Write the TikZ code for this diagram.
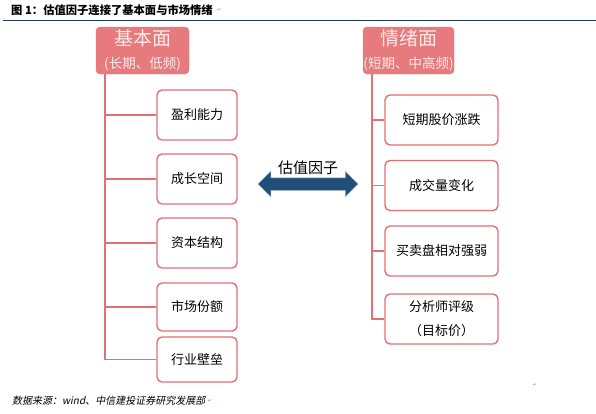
\documentclass[tikz,border=0pt]{standalone}
\usepackage{fontspec}
\setmainfont{Noto Sans CJK SC}[ItalicFont={Noto Sans CJK SC}, ItalicFeatures={FakeSlant=0.2}]
\newfontfamily\symfont{DejaVu Sans}
\usetikzlibrary{positioning,shapes.arrows}

\definecolor{boxred}{RGB}{230,122,124}
\definecolor{linered}{RGB}{226,112,117}
\definecolor{toptext}{RGB}{253,234,234}
\definecolor{arrowblue}{RGB}{31,78,121}
\definecolor{ruleblue}{RGB}{31,56,100}
\definecolor{markblue}{RGB}{120,150,200}

\tikzset{
    topbox/.style={fill=boxred, draw=boxred, rounded corners=4pt, text=toptext,
        align=center, inner sep=0pt, minimum height=47pt, font=\fontsize{13.5}{22.5}\selectfont},
    itembox/.style={draw=linered, line width=1.4pt, rounded corners=5pt, fill=white,
        align=center, inner sep=0pt, font=\fontsize{13}{24}\selectfont},
    branch/.style={draw=linered, line width=1.3pt},
    parmark/.style={text=markblue, font=\symfont\fontsize{5}{5}\selectfont, inner sep=0pt}
}

\begin{document}
\begin{tikzpicture}[x=1pt, y=-1pt]
    \useasboundingbox[fill=white] (0,0) rectangle (596,413);

    % title and rule
    \node[anchor=west, font=\bfseries\fontsize{11.3}{12}\selectfont, inner sep=0pt] (title) at (11,10)
        {图 1：估值因子连接了基本面与市场情绪};
    \node[parmark, right=4pt of title] (pm1) {↵};
    \draw[ruleblue, line width=1pt] (3,20) -- (596,20);

    % left side
    \node[topbox, minimum width=93pt] (fund) at (142.5,50.5)
        {{\fontsize{19}{22.5}\selectfont 基本面}\\(长期、低频)};
    \coordinate (ltrunk) at (105,74);

    \foreach \y/\h/\txt [count=\i] in {115/50/盈利能力, 179/50/成长空间, 243/50/资本结构,
            307/48/市场份额, 359.5/45/行业壁垒} {
        \node[itembox, minimum width=80pt, minimum height=\h pt] (fund\i) at (197,\y) {\txt};
        \draw[branch] (ltrunk) |- (fund\i.west);
    }

    % right side
    \node[topbox, minimum width=91pt] (senti) at (408.5,50.5)
        {{\fontsize{19}{22.5}\selectfont 情绪面}\\(短期、中高频)};
    \coordinate (rtrunk) at (372,74);

    \foreach \y/\txt [count=\i] in {120/短期股价涨跌, 185.5/成交量变化, 251/买卖盘相对强弱,
            319/{分析师评级\\（目标价）}} {
        \node[itembox, minimum width=113pt, minimum height=50pt] (senti\i) at (441.5,\y) {\txt};
        \draw[branch] (rtrunk) |- (senti\i.west);
    }

    % valuation factor arrow
    \node[double arrow, fill=arrowblue, draw=arrowblue!45!white, line width=0.5pt,
        minimum height=100pt, inner xsep=0pt, inner ysep=6pt,
        double arrow head extend=6.5pt] (valarrow) at (308,184) {};
    \node[above=3pt of valarrow, font=\fontsize{15}{16}\selectfont, inner sep=0pt] (valtext)
        {估值因子};

    % source
    \node[anchor=west, font=\itshape\fontsize{10}{11}\selectfont, inner sep=0pt] (source) at (12,401)
        {数据来源：wind、中信建投证券研究发展部};
    \node[parmark, right=2pt of source] (pm2) {↵};
    \node[parmark] (pm3) at (535,385) {↵};
\end{tikzpicture}
\end{document}
